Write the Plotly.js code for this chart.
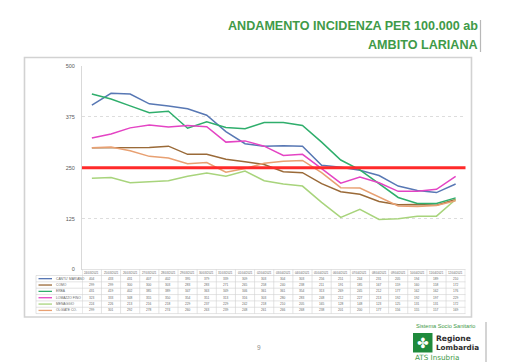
<!DOCTYPE html>
<html>
<head>
<meta charset="utf-8">
<script src="https://cdn.plot.ly/plotly-3.0.1.min.js"></script>
<style>html,body{margin:0;padding:0;background:#fff;}#chart{width:510px;height:362px;}</style>
</head>
<body>
<div id="chart"></div>
<script>
const dates = ["24/03/2021","25/03/2021","26/03/2021","27/03/2021","28/03/2021","29/03/2021","30/03/2021","31/03/2021","01/04/2021","02/04/2021","03/04/2021","04/04/2021","05/04/2021","06/04/2021","07/04/2021","08/04/2021","09/04/2021","10/04/2021","11/04/2021","12/04/2021"];
const seriesNames = ["CANTU' MARIANO","COMO","ERBA","LOMAZZO FINO","MENAGGIO","OLGIATE CO."];
const cantuMariano = [404,433,431,407,402,395,379,339,309,303,304,303,256,251,244,231,205,194,189,210];
const como         = [299,299,300,300,303,283,283,271,265,258,240,238,211,191,185,167,159,160,158,172];
const erba         = [431,419,402,385,389,347,363,349,346,361,361,354,313,269,245,212,177,162,162,176];
const lomazzoFino  = [323,333,348,355,350,354,351,313,316,303,280,283,248,212,227,213,192,192,197,229];
const menaggio     = [224,226,213,216,218,229,237,229,242,218,210,205,165,128,148,123,125,131,131,172];
const olgiateCo    = [299,301,292,278,274,260,263,239,248,261,266,268,238,201,200,177,156,155,157,169];
const threshold = 250;
const yTicks = [0,125,250,375,500];
const colors = ["#5878b4","#9a6a38","#2fae6c","#e444c4","#a8d47c","#e8a072"];

const allSeries = [cantuMariano, como, erba, lomazzoFino, menaggio, olgiateCo];
const W = 510, H = 362;
const px = x => x / W;
const py = y => 1 - y / H;
const FONT = 'Liberation Sans, Arial, sans-serif';

const traces = allSeries.map((vals, k) => ({
  type: 'scatter', mode: 'lines', x: dates, y: vals, name: seriesNames[k],
  line: {color: colors[k], width: 1.5}, hoverinfo: 'skip'
}));

const shapes = [
  {type: 'rect', xref: 'paper', yref: 'paper', x0: px(24.5), x1: px(471.5), y0: py(317), y1: py(57.5),
   line: {color: '#d2d2d2', width: 1.6}, fillcolor: 'rgba(0,0,0,0)', layer: 'below'},
  {type: 'line', xref: 'x domain', yref: 'y', x0: 0, x1: 1, y0: threshold, y1: threshold,
   line: {color: '#ff2a2a', width: 3}},
  {type: 'line', xref: 'paper', yref: 'paper', x0: px(480.5), x1: px(480.5), y0: py(20), y1: py(52),
   line: {color: '#b8b8b8', width: 1.2}},
  {type: 'line', xref: 'paper', yref: 'paper', x0: px(486), x1: px(486), y0: py(322), y1: py(362),
   line: {color: '#b8b8b8', width: 1.2}},
  {type: 'rect', xref: 'paper', yref: 'paper', x0: px(413), x1: px(432.5), y0: py(352.5), y1: py(333),
   line: {width: 0}, fillcolor: '#1f8a3c'}
];

// ---- data table (grid + text) ----
const tTop = 269.5, hdrH = 6, rowH = 6.35;
const tBottom = tTop + hdrH + rowH * seriesNames.length;
const gridLine = {color: '#d0d0d0', width: 0.6};
// horizontal rules
shapes.push({type: 'line', xref: 'x domain', yref: 'paper', x0: 0, x1: 1, y0: py(tTop), y1: py(tTop), line: gridLine});
for (let r = 0; r <= seriesNames.length; r++) {
  const yy = tTop + hdrH + rowH * r;
  shapes.push({type: 'line', xref: 'paper', yref: 'paper', x0: px(36), x1: px(465.5), y0: py(yy), y1: py(yy), line: gridLine});
}
// vertical rules
for (let i = 0; i <= dates.length; i++) {
  shapes.push({type: 'line', xref: 'x', yref: 'paper', x0: i - 0.5, x1: i - 0.5, y0: py(tTop), y1: py(tBottom), line: gridLine});
}
shapes.push({type: 'line', xref: 'paper', yref: 'paper', x0: px(36), x1: px(36), y0: py(tTop + hdrH), y1: py(tBottom), line: gridLine});

const annotations = [];
dates.forEach((d, i) => {
  annotations.push({text: d, xref: 'x', yref: 'paper', x: d, y: py(tTop + hdrH / 2), showarrow: false,
    xanchor: 'center', yanchor: 'middle', font: {family: FONT, size: 2.9, color: '#666'}});
  allSeries.forEach((s, k) => {
    annotations.push({text: String(s[i]), xref: 'x', yref: 'paper', x: d, y: py(tTop + hdrH + rowH * (k + 0.5)),
      showarrow: false, xanchor: 'center', yanchor: 'middle', font: {family: FONT, size: 3.2, color: '#666'}});
  });
});
seriesNames.forEach((n, k) => {
  const yc = tTop + hdrH + rowH * (k + 0.5);
  shapes.push({type: 'line', xref: 'paper', yref: 'paper', x0: px(38.5), x1: px(52), y0: py(yc), y1: py(yc),
    line: {color: colors[k], width: 1.3}});
  annotations.push({text: n, xref: 'paper', yref: 'paper', x: px(53.5), y: py(yc), showarrow: false,
    xanchor: 'left', yanchor: 'middle', font: {family: FONT, size: 3.3, color: '#666'}});
});

annotations.push(
  {text: '<b>ANDAMENTO INCIDENZA PER 100.000 ab</b>', xref: 'paper', yref: 'paper', x: px(480), y: py(26),
   xanchor: 'right', yanchor: 'middle', showarrow: false,
   font: {family: FONT, size: 12.6, color: '#3f9a48'}},
  {text: '<b>AMBITO LARIANA</b>', xref: 'paper', yref: 'paper', x: px(480), y: py(44.5),
   xanchor: 'right', yanchor: 'middle', showarrow: false,
   font: {family: FONT, size: 12.6, color: '#3f9a48'}},
  {text: 'Sistema Socio Sanitario', xref: 'paper', yref: 'paper', x: px(413.5), y: py(326),
   xanchor: 'left', yanchor: 'middle', showarrow: false,
   font: {family: FONT, size: 5.6, color: '#3f9a48'}},
  {text: '✤', xref: 'paper', yref: 'paper', x: px(422.7), y: py(342.8),
   xanchor: 'center', yanchor: 'middle', showarrow: false,
   font: {family: 'DejaVu Sans, sans-serif', size: 14, color: '#ffffff'}},
  {text: '<b>Regione</b>', xref: 'paper', yref: 'paper', x: px(434), y: py(338),
   xanchor: 'left', yanchor: 'middle', showarrow: false,
   font: {family: 'DejaVu Sans, sans-serif', size: 7.6, color: '#2c2c2c'}},
  {text: '<b>Lombardia</b>', xref: 'paper', yref: 'paper', x: px(434), y: py(347.5),
   xanchor: 'left', yanchor: 'middle', showarrow: false,
   font: {family: 'DejaVu Sans, sans-serif', size: 7.2, color: '#2c2c2c'}},
  {text: 'ATS Insubria', xref: 'paper', yref: 'paper', x: px(412.5), y: py(357.5),
   xanchor: 'left', yanchor: 'middle', showarrow: false,
   font: {family: 'DejaVu Sans, sans-serif', size: 7.2, color: '#3f9a48'}},
  {text: '9', xref: 'paper', yref: 'paper', x: px(258.5), y: py(347.5),
   xanchor: 'center', yanchor: 'middle', showarrow: false,
   font: {family: FONT, size: 6.5, color: '#8a8a8a'}}
);

const layout = {
  width: W, height: H,
  margin: {l: 0, r: 0, t: 0, b: 0},
  paper_bgcolor: '#ffffff', plot_bgcolor: '#ffffff',
  showlegend: false,
  xaxis: {domain: [px(82), px(465.5)], type: 'category', showticklabels: false, showgrid: false,
    zeroline: false, showline: false, ticks: ''},
  yaxis: {domain: [py(269.5), py(66)], range: [0, 500], tickvals: yTicks, ticktext: yTicks.map(String),
    showgrid: true, gridcolor: '#d4d4d4', griddash: 'dot', gridwidth: 0.8, zeroline: false,
    showline: true, linecolor: '#d9d9d9', linewidth: 1, ticks: '', ticklabelstandoff: 5,
    tickfont: {family: FONT, size: 5.5, color: '#595959'}},
  shapes: shapes,
  annotations: annotations
};

Plotly.newPlot('chart', traces, layout, {staticPlot: true, displayModeBar: false});
</script>
</body>
</html>
